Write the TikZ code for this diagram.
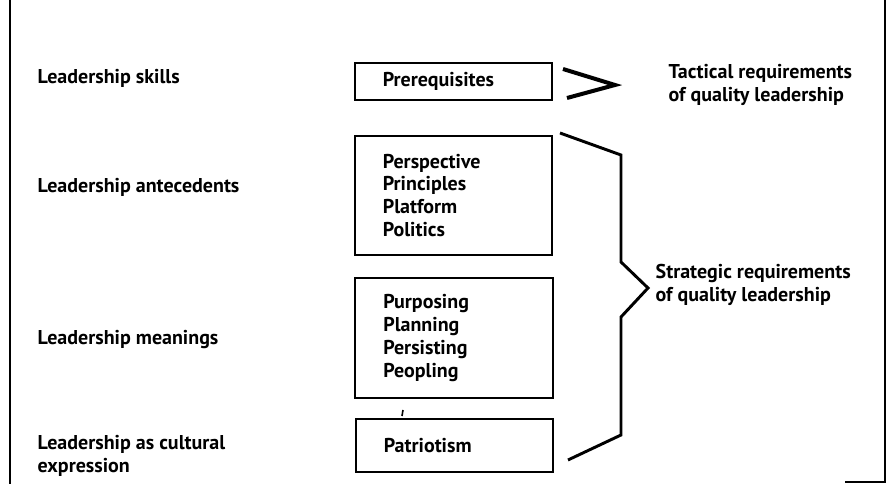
\documentclass[tikz,border=0pt]{standalone}
\usepackage{fontspec}
\setmainfont{PT Sans}

\begin{document}
\begin{tikzpicture}[x=0.75pt,y=-0.75pt,
        every node/.style={font=\bfseries\fontsize{15}{17.2}\selectfont},
        box/.style={draw, rectangle, line width=1.3pt, inner xsep=21pt, text width=106pt, align=left},
        lbl/.style={anchor=west, align=left},
        bracket/.style={draw=black, line width=2.2pt}]
        \useasboundingbox (0,0) rectangle (894,484);

        \draw[line width=1.4pt] (10,0) -- (10,484);
        \draw[line width=1.4pt] (885,0) -- (885,482) -- (845,482);

        \node[box, minimum height=28pt] (Pre) at (453.5, 81.5) {Prerequisites};

        \node[box, minimum height=89pt] (Per) at (453.5, 195.5) {Perspective\\Principles\\Platform\\Politics};

        \node[box, minimum height=90pt] (Pur) at (454, 338) {Purposing\\Planning\\Persisting\\Peopling};

        \node[box, minimum height=40pt] (Pat) at (454.5, 445.5) {Patriotism};

        \node[lbl] (Skills) at (33, 78) {Leadership skills};
        \node[lbl] (Ante) at (33, 187) {Leadership antecedents};
        \node[lbl] (Mean) at (33, 340) {Leadership meanings};
        \node[lbl] (Cult) at (33, 456) {Leadership as cultural\\expression};

        \node[lbl] (Tac) at (664, 85) {Tactical requirements\\of quality leadership};
        \node[lbl] (Str) at (651, 285) {Strategic requirements\\of quality leadership};

        % chevron after the prerequisites
        \coordinate (C1) at (563, 69);
        \coordinate (C2) at (615, 85);
        \coordinate (C3) at (567, 98);
        \draw[line width=3pt, line join=miter] (C1) -- (C2) -- (C3);

        % brace for the strategic part
        \coordinate (B1) at (560, 133);
        \coordinate (B2) at (621, 155);
        \coordinate (B3) at (621, 262);
        \coordinate (B4) at (648, 288);
        \coordinate (B5) at (621, 317);
        \coordinate (B6) at (621, 435);
        \coordinate (B7) at (568, 460);
        \draw[bracket] (B1) -- (B2) -- (B3) -- (B4) -- (B5) -- (B6) -- (B7);

        \draw[line width=1.2pt] (403,410) -- (402,416);

    \end{tikzpicture}
\end{document}
